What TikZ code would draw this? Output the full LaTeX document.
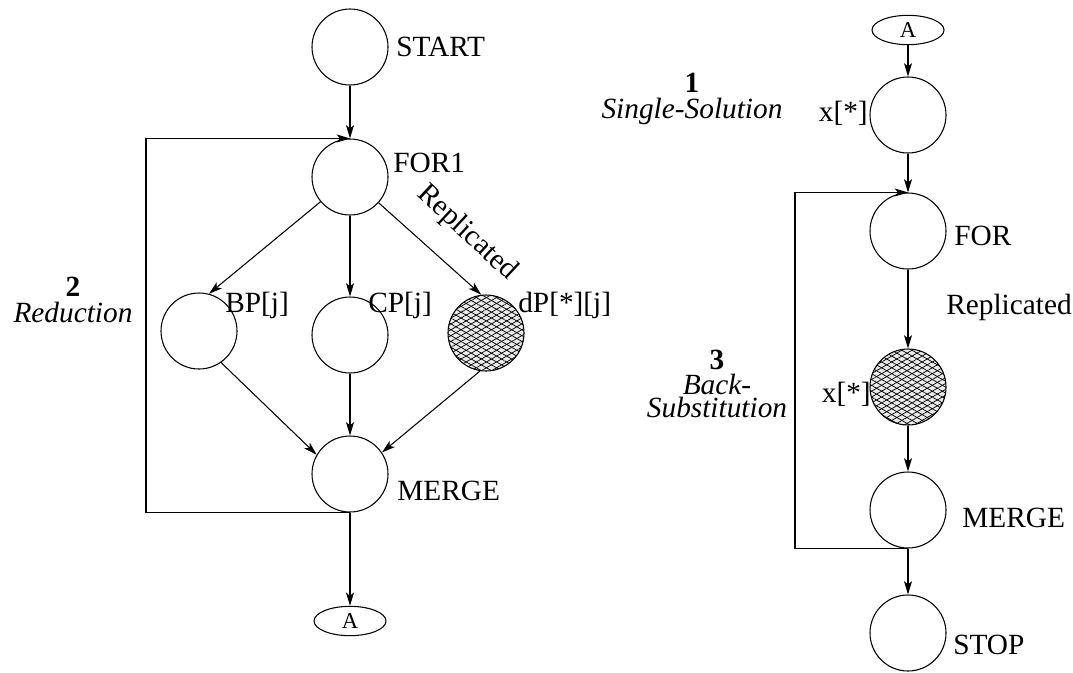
\documentclass[tikz,border=0pt]{standalone}
\usepackage{fontspec}
\setmainfont{Liberation Serif}
\usetikzlibrary{arrows.meta,patterns.meta,shapes.geometric}
\begin{document}
\begin{tikzpicture}[x=0.75pt,y=-0.75pt,
  every node/.style={font=\fontsize{22}{26}\selectfont, inner sep=0pt},
  circ/.style={circle, draw, line width=0.8pt, minimum size=57pt},
  hatch/.style={circ, fill=black!8,
    postaction={pattern={Lines[angle=30,distance=3.8pt,line width=0.55pt]}},
    postaction={pattern={Lines[angle=-30,distance=3.8pt,line width=0.55pt]}}},
  term/.style={ellipse, draw, line width=0.8pt, minimum width=54pt, minimum height=22pt, font=\fontsize{17}{20}\selectfont},
  conn/.style={line width=0.8pt, -{Stealth[length=10pt,width=6pt,inset=2.5pt]}},
  lbl/.style={anchor=west},
  lblr/.style={anchor=east},
]
\useasboundingbox (0,0) rectangle (1073,672);

% ---------- left graph ----------
\node[circ] (START) at (350,47) {};
\node[circ] (FOR1) at (350,177) {};
\node[circ] (BP) at (199,331) {};
\node[circ] (CP) at (350,335) {};
\node[hatch] (DP) at (486,333) {};
\node[circ] (MERGE) at (350,474) {};
\node[term] (A1) at (350,621) {A};
\coordinate (LL) at (146,300);

\node[lbl] (tSTART) at (396,47) {START};
\node[lbl] (tFOR1) at (393,163) {FOR1};
\node[lbl] (tBP) at (225,305) {BP[j]};
\node[lbl] (tCP) at (368,305) {CP[j]};
\node[lbl] (tDP) at (518,305) {dP[*][j]};
\node[lbl] (tMERGE) at (397,491) {MERGE};
\node[rotate=-43] (tRep1) at (467,233) {Replicated};
\node (tTwo) at (73,287) {\textbf{2}};
\node (tRed) at (73,312) {\textit{Reduction}};

\draw[conn] (START) -- (FOR1);
\draw[conn] (FOR1.220) -- (BP.75);
\draw[conn] (FOR1) -- (CP);
\draw[conn] (FOR1.318) -- (DP.97);
\draw[conn] (BP.-55) -- (MERGE.150);
\draw[conn] (CP) -- (MERGE);
\draw[conn] (DP.-99) -- (MERGE.34);
\draw[conn] (MERGE) -- (A1);
\draw[conn] (MERGE.south) -| (LL) |- (FOR1.north);

% ---------- right graph ----------
\node[term] (A2) at (908,30) {A};
\node[circ] (X1) at (908,115) {};
\node[circ] (FOR) at (908,231) {};
\node[hatch] (X2) at (908,387) {};
\node[circ] (MERGE2) at (908,510) {};
\node[circ] (STOP) at (908,633) {};
\coordinate (RL) at (795,300);

\node[lblr] (tX1) at (868,113) {x[*]};
\node[lbl] (tFOR) at (954,236) {FOR};
\node[lbl] (tRep2) at (946,307) {Replicated};
\node[lblr] (tX2) at (871,394) {x[*]};
\node[lbl] (tMERGE2) at (962,518) {MERGE};
\node[lbl] (tSTOP) at (953,645) {STOP};
\node (tOne) at (692,83) {\textbf{1}};
\node (tSS) at (692,111) {\textit{Single-Solution}};
\node (tThree) at (717,360) {\textbf{3}};
\node (tBack) at (717,384) {\textit{Back-}};
\node (tSub) at (717,407) {\textit{Substitution}};

\draw[conn] (A2) -- (X1);
\draw[conn] (X1) -- (FOR);
\draw[conn] (FOR) -- (X2);
\draw[conn] (X2) -- (MERGE2);
\draw[conn] (MERGE2) -- (STOP);
\draw[conn] (MERGE2.south) -| (RL) |- (FOR.north);
\end{tikzpicture}
\end{document}
